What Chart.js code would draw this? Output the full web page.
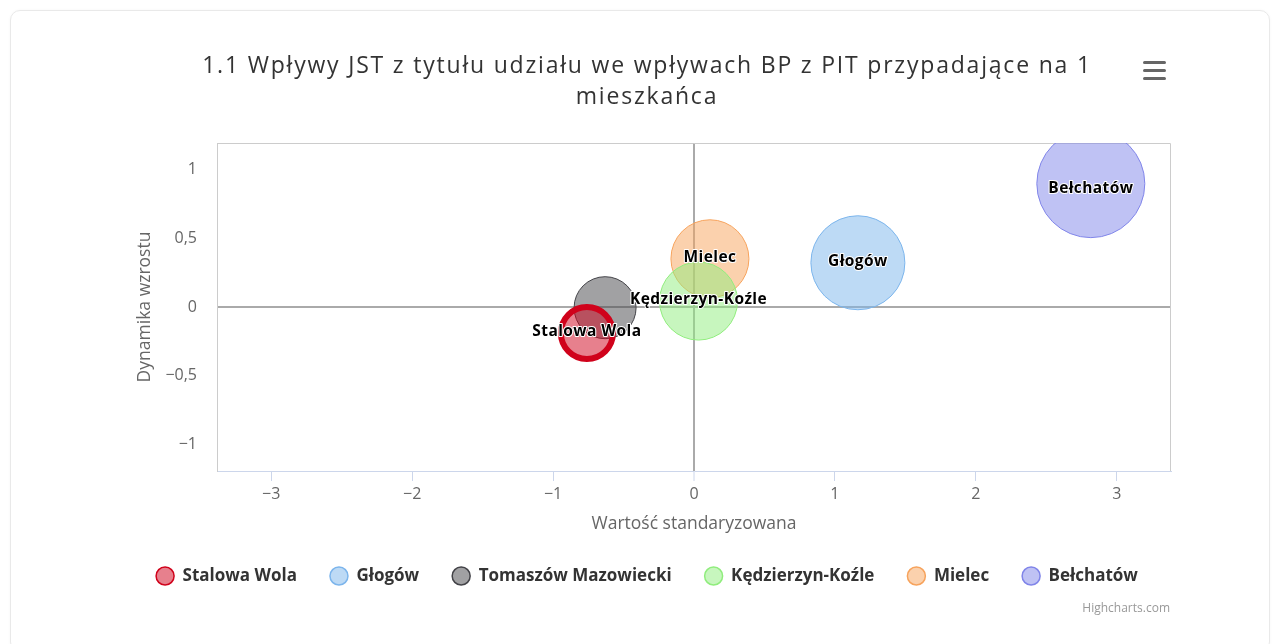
<!DOCTYPE html>
<html><head><meta charset="utf-8">
<script src="https://cdn.jsdelivr.net/npm/chart.js@4.4.1/dist/chart.umd.min.js"></script>
<style>
html,body{margin:0;padding:0;background:#fff;width:1280px;height:644px;overflow:hidden;}
#card{position:absolute;left:10px;top:10px;width:1258px;height:640px;border:1px solid #e9e9e9;border-radius:10px;box-shadow:0 0 3px rgba(0,0,0,0.04);}
#wrap{position:absolute;left:0;top:0;width:1280px;height:644px;}
#menu{position:absolute;left:1143px;top:61px;width:23px;}
#menu div{height:3px;background:#666;border-radius:2px;margin-bottom:5px;}
#credits{position:absolute;right:110px;top:599px;font:12px "Open Sans",sans-serif;color:#999;}
</style></head>
<body>
<div id="card"></div>
<div id="wrap"><canvas id="c" width="1280" height="644"></canvas></div>
<div id="menu"><div></div><div></div><div></div></div>
<div id="credits">Highcharts.com</div>
<script>
// ---- data ----
const titleLines = ['1.1 Wpływy JST z tytułu udziału we wpływach BP z PIT przypadające na 1', 'mieszkańca'];
const xAxisTitle = 'Wartość standaryzowana';
const yAxisTitle = 'Dynamika wzrostu';
const seriesNames = ['Stalowa Wola', 'Głogów', 'Tomaszów Mazowiecki', 'Kędzierzyn-Koźle', 'Mielec', 'Bełchatów'];
const xValues = [-0.76, 1.163, -0.631, 0.032, 0.113, 2.816];
const yValues = [-0.188, 0.321, -0.005, 0.043, 0.35, 0.895];
const bubbleSizes = [26, 47, 31, 39, 39, 54];
const xTicks = [-3, -2, -1, 0, 1, 2, 3];
const yTicks = [-1, -0.5, 0, 0.5, 1];

// ---- styles ----
const fills = ['rgba(208,2,27,0.5)', 'rgba(124,181,236,0.5)', 'rgba(67,67,72,0.5)', 'rgba(144,237,125,0.5)', 'rgba(247,163,92,0.5)', 'rgba(128,133,233,0.5)'];
const borders = ['#d0021b', '#7cb5ec', '#434348', '#90ed7d', '#f7a35c', '#8085e9'];
const borderWidths = [6, 1, 1, 1, 1, 1];
const FONT = '"Open Sans", sans-serif';

const fmt = v => (v < 0 ? '\u2212' : '') + String(Math.abs(v)).replace('.', ',');

const datasets = seriesNames.map((name, i) => ({
  label: name,
  data: [{x: xValues[i], y: yValues[i], r: bubbleSizes[i]}],
  backgroundColor: fills[i],
  borderColor: borders[i],
  borderWidth: borderWidths[i],
  clip: 0
}));

const extras = {
  id: 'extras',
  beforeDatasetsDraw(chart) {
    const {ctx, chartArea: a} = chart;
    ctx.save();
    ctx.strokeStyle = '#cccccc';
    ctx.lineWidth = 1;
    ctx.beginPath();
    ctx.moveTo(a.left, a.top + 0.5);
    ctx.lineTo(a.right - 0.5, a.top + 0.5);
    ctx.lineTo(a.right - 0.5, a.bottom);
    ctx.stroke();
    ctx.restore();
  },
  afterDatasetsDraw(chart) {
    const {ctx, chartArea: a} = chart;
    ctx.save();
    ctx.font = 'bold 15.5px ' + FONT;
    if ('letterSpacing' in ctx) ctx.letterSpacing = '0.4px';
    ctx.textAlign = 'center';
    ctx.textBaseline = 'middle';
    ctx.lineJoin = 'round';
    // bigger bubbles get label priority; overlapping labels are hidden
    const items = [];
    chart.data.datasets.forEach((ds, i) => {
      chart.getDatasetMeta(i).data.forEach(el => items.push({label: ds.label, el}));
    });
    items.sort((p, q) => q.el.options.radius - p.el.options.radius);
    const placed = [];
    items.forEach(({label, el}) => {
      const r = el.options.radius;
      const top = Math.max(a.top, el.y - r);
      const bot = Math.min(a.bottom, el.y + r);
      const y = (top + bot) / 2 - 1.5;
      const w = ctx.measureText(label).width;
      const box = {l: el.x - w / 2, r: el.x + w / 2, t: y - 9, b: y + 9};
      if (placed.some(p => box.l < p.r && box.r > p.l && box.t < p.b && box.b > p.t)) return;
      placed.push(box);
      ctx.strokeStyle = '#fff';
      ctx.lineWidth = 2;
      ctx.strokeText(label, el.x, y);
      ctx.fillStyle = '#000';
      ctx.fillText(label, el.x, y);
    });
    ctx.restore();
  },
  afterDraw(chart) {
    const {ctx} = chart;
    ctx.save();
    ctx.font = '23px ' + FONT;
    if ('letterSpacing' in ctx) ctx.letterSpacing = '1.8px';
    ctx.fillStyle = '#333333';
    ctx.textAlign = 'center';
    ctx.textBaseline = 'middle';
    const cx = (chart.options.layout.padding.left + chart.width - chart.options.layout.padding.right) / 2 + 0;
    titleLines.forEach((t, i) => ctx.fillText(t, cx, 66 + i * 31));
    ctx.restore();
  }
};

new Chart(document.getElementById('c'), {
  type: 'bubble',
  data: {datasets},
  plugins: [extras],
  options: {
    responsive: false,
    animation: false,
    devicePixelRatio: 1,
    events: [],
    layout: {padding: {left: 123, right: 109, top: 143, bottom: 49.5}},
    plugins: {
      title: {display: false},
      legend: {
        position: 'bottom',
        labels: {
          usePointStyle: true,
          pointStyle: 'circle',
          boxHeight: 12.7,
          pointStyleWidth: 18,
          padding: 33,
          color: '#333333',
          font: {family: FONT, size: 17, weight: 'bold'},
          generateLabels(chart) {
            const items = Chart.defaults.plugins.legend.labels.generateLabels(chart);
            items.forEach(it => { it.lineWidth = 1.5; });
            return items;
          }
        }
      },
      tooltip: {enabled: false}
    },
    scales: {
      x: {
        type: 'linear',
        min: -3.385, max: 3.385,
        afterBuildTicks: s => { s.ticks = xTicks.map(v => ({value: v})); },
        afterFit: s => { s.height = 63.5; },
        ticks: {callback: fmt, color: '#666666', font: {family: FONT, size: 16}, padding: 3.5, maxRotation: 0, autoSkip: false},
        grid: {
          color: c => c.tick && c.tick.value === 0 ? '#aaaaaa' : 'rgba(0,0,0,0)',
          lineWidth: c => c.tick && c.tick.value === 0 ? 2 : 1,
          drawTicks: true, tickLength: 10, tickColor: '#ccd6eb', tickWidth: 1
        },
        border: {display: true, color: '#ccd6eb', width: 1},
        title: {display: true, text: xAxisTitle, color: '#666666', font: {family: FONT, size: 17.5}, padding: {top: 0, bottom: 0.3}}
      },
      y: {
        type: 'linear',
        min: -1.19, max: 1.19,
        afterBuildTicks: s => { s.ticks = yTicks.map(v => ({value: v})); },
        afterFit: s => { s.width = 94; },
        ticks: {callback: fmt, color: '#666666', font: {family: FONT, size: 16}, padding: 20, autoSkip: false},
        grid: {
          color: c => c.tick && c.tick.value === 0 ? '#aaaaaa' : 'rgba(0,0,0,0)',
          lineWidth: c => c.tick && c.tick.value === 0 ? 2 : 1,
          drawTicks: false
        },
        border: {display: true, color: '#cccccc', width: 1},
        title: {display: true, text: yAxisTitle, color: '#666666', font: {family: FONT, size: 17.5}, padding: {top: 11.5, bottom: 0}}
      }
    }
  }
});
</script>
</body></html>
